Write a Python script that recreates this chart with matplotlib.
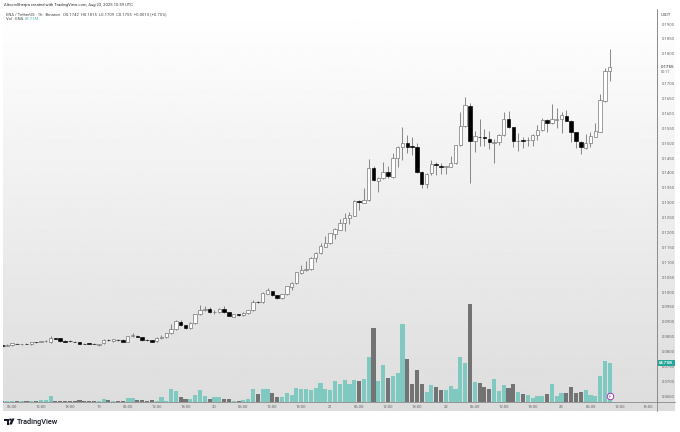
import matplotlib
matplotlib.use("Agg")
import matplotlib.pyplot as plt
from matplotlib.patches import Polygon, Circle, Rectangle
import numpy as np

W, H = 680, 432

# hourly candles, hour 0 is the first 06:00 tick
hours = list(range(-2, 125))
opens = [.0821, .0820, .0821, .0826, .0825, .0827, .0824, .0832, .0833, .0835,
         .0832, .0845, .0846, .0836, .0836, .0834, .0833, .0827, .0829, .0827,
         .0823, .0828, .0839, .0836, .0840, .0840, .0834, .0853, .0853, .0849,
         .0840, .0838, .0835, .0845, .0848, .0861, .0875, .0900, .0888, .0878,
         .0896, .0925, .0941, .0942, .0933, .0933, .0943, .0932, .0917, .0925,
         .0923, .0930, .0939, .0968, .0965, .0995, .1003, .0989, .0980, .0992,
         .1018, .1029, .1065, .1075, .1076, .1113, .1131, .1152, .1165, .1195,
         .1210, .1232, .1247, .1257, .1305, .1300, .1309, .1417, .1373, .1382,
         .1404, .1385, .1449, .1486, .1499, .1489, .1486, .1404, .1362, .1401,
         .1429, .1424, .1421, .1421, .1433, .1493, .1557, .1626, .1508, .1522,
         .1520, .1514, .1500, .1503, .1527, .1581, .1553, .1506, .1510, .1509,
         .1509, .1528, .1544, .1577, .1568, .1579, .1580, .1592, .1575, .1537,
         .1504, .1484, .1499, .1522, .1538, .1641, .1742]
highs = [.0823, .0824, .0830, .0828, .0827, .0829, .0834, .0834, .0837, .0838,
         .0852, .0847, .0847, .0838, .0838, .0836, .0834, .0829, .0830, .0829,
         .0827, .0842, .0841, .0843, .0842, .0841, .0853, .0862, .0856, .0850,
         .0842, .0839, .0848, .0856, .0864, .0892, .0905, .0905, .0890, .0898,
         .0927, .0955, .0952, .0950, .0940, .0948, .0952, .0934, .0926, .0928,
         .0932, .0941, .0972, .0970, .0999, .1012, .1005, .0990, .0994, .1022,
         .1034, .1068, .1090, .1105, .1118, .1135, .1164, .1188, .1199, .1215,
         .1245, .1267, .1268, .1309, .1310, .1348, .1448, .1423, .1386, .1438,
         .1423, .1468, .1490, .1555, .1527, .1521, .1500, .1406, .1400, .1443,
         .1438, .1435, .1423, .1458, .1495, .1605, .1656, .1636, .1540, .1580,
         .1546, .1541, .1514, .1530, .1606, .1609, .1555, .1535, .1521, .1519,
         .1530, .1560, .1585, .1580, .1630, .1617, .1606, .1611, .1577, .1539,
         .1506, .1532, .1538, .1566, .1665, .1752, .1815]
lows = [.0819, .0819, .0818, .0824, .0823, .0825, .0823, .0830, .0832, .0833,
        .0830, .0842, .0834, .0832, .0834, .0831, .0824, .0825, .0826, .0825,
        .0820, .0825, .0836, .0834, .0836, .0831, .0832, .0850, .0848, .0837,
        .0836, .0833, .0832, .0841, .0845, .0859, .0873, .0886, .0875, .0876,
        .0893, .0922, .0938, .0930, .0927, .0930, .0930, .0918, .0915, .0921,
        .0921, .0928, .0937, .0963, .0963, .0993, .0988, .0978, .0978, .0989,
        .1006, .1027, .1060, .1070, .1074, .1101, .1128, .1150, .1163, .1177,
        .1208, .1205, .1230, .1255, .1275, .1298, .1305, .1373, .1337, .1380,
        .1382, .1383, .1421, .1443, .1468, .1460, .1400, .1348, .1350, .1393,
        .1393, .1395, .1396, .1419, .1430, .1490, .1554, .1365, .1471, .1490,
        .1490, .1480, .1434, .1493, .1525, .1551, .1488, .1472, .1485, .1489,
        .1489, .1509, .1540, .1536, .1565, .1552, .1535, .1575, .1505, .1485,
        .1463, .1481, .1488, .1520, .1536, .1638, .1709]
closes = [.0820, .0823, .0828, .0825, .0826, .0826, .0833, .0831, .0835, .0836,
          .0845, .0843, .0835, .0834, .0835, .0832, .0825, .0826, .0827, .0826,
          .0824, .0840, .0838, .0842, .0838, .0833, .0851, .0854, .0850, .0839,
          .0838, .0834, .0846, .0849, .0862, .0875, .0902, .0889, .0879, .0896,
          .0925, .0941, .0943, .0932, .0934, .0943, .0932, .0920, .0925, .0924,
          .0930, .0939, .0967, .0966, .0997, .1006, .0990, .0981, .0992, .1019,
          .1031, .1066, .1073, .1076, .1115, .1132, .1154, .1165, .1197, .1211,
          .1232, .1250, .1258, .1306, .1303, .1309, .1417, .1376, .1384, .1402,
          .1390, .1449, .1488, .1499, .1486, .1488, .1402, .1362, .1398, .1430,
          .1425, .1421, .1422, .1433, .1493, .1557, .1628, .1508, .1525, .1521,
          .1518, .1503, .1503, .1527, .1581, .1553, .1506, .1508, .1508, .1510,
          .1528, .1544, .1579, .1568, .1580, .1580, .1593, .1575, .1537, .1507,
          .1488, .1499, .1524, .1541, .1645, .1742, .1755]
# volume in millions of ENA
volumes = [1.8, 1.8, 1.8, 1.4, 0.9, 0.9, 1.4, 0.9, 3.0, 3.0,
           10.0, 0.9, 2.1, 2.1, 0.9, 0.9, 4.0, 0.9, 1.2, 0.9,
           1.4, 4.4, 3.5, 1.8, 1.2, 1.2, 6.2, 6.7, 3.5, 3.5,
           1.2, 4.0, 1.2, 8.3, 2.6, 22.9, 19.4, 8.8, 4.8, 4.8,
           12.3, 21.6, 10.0, 5.8, 8.3, 8.8, 5.8, 5.8, 2.3, 2.3,
           4.0, 4.8, 23.4, 13.6, 22.4, 23.4, 15.8, 9.3, 8.3, 16.4,
           11.8, 24.1, 23.4, 22.4, 21.1, 24.1, 33.4, 23.4, 21.6, 36.4,
           31.2, 38.2, 31.2, 39.2, 37.5, 41.0, 79.2, 130.8, 36.4, 65.1,
           42.2, 46.3, 51.0, 136.8, 75.2, 31.2, 55.8, 31.7, 17.6, 29.4,
           25.9, 21.1, 21.6, 28.7, 23.4, 79.2, 69.2, 171.9, 35.7, 33.4,
           26.4, 22.4, 40.5, 18.8, 29.4, 24.6, 32.2, 18.1, 14.6, 12.3,
           7.0, 10.0, 10.0, 14.1, 32.2, 10.0, 16.4, 15.3, 26.4, 15.8,
           17.6, 21.1, 11.8, 11.1, 45.2, 72.7, 68.7]

time_labels = ["06:00", "12:00", "18:00", "19", "06:00", "12:00", "18:00", "20",
               "06:00", "12:00", "18:00", "21", "06:00", "12:00", "18:00", "22",
               "06:00", "12:00", "18:00", "23", "06:00", "12:00", "18:00"]
price_ticks = [.065, .07, .075, .08, .085, .09, .095, .10, .105, .11, .115, .12, .125,
               .13, .135, .14, .145, .15, .155, .16, .165, .17, .18, .185, .19]

plt.rcParams["font.family"] = ["Roboto", "DejaVu Sans"]
GRID = "#8a8a8a"
LABEL = "#666666"
TEAL = "#80c9c1"
GRAY = "#737373"
CANDLE = "#6a6a6a"

fig = plt.figure(figsize=(W / 100, H / 100), dpi=100, facecolor="white")

# chart background, white fading to grey
bg = fig.add_axes([0, 0, 1, 1], zorder=0)
shade = np.linspace(1.0, 0.865, 256).reshape(-1, 1)
bg.imshow(shade, cmap="gray", vmin=0, vmax=1, aspect="auto", extent=(3, 675, 411, 9))
bg.set_xlim(0, W)
bg.set_ylim(H, 0)
bg.axis("off")

# TradingView logo
bg.add_patch(Polygon([(4, 418.5), (9, 418.5), (9, 424.5), (6.7, 424.5), (6.7, 420.6), (4, 420.6)], fc="#131722", ec="none"))
bg.add_patch(Circle((10.2, 419.6), 1.1, fc="#131722", ec="none"))
bg.add_patch(Polygon([(11.8, 418.5), (14.5, 418.5), (11.8, 424.5), (9.2, 424.5)], fc="#131722", ec="none"))

left, right, top, bottom = 3, 657, 9.5, 402
ax = fig.add_axes([left / W, 1 - bottom / H, (right - left) / W, (bottom - top) / H], zorder=2)
vol_ax = ax.twinx()
vol_ax.set_zorder(1)
ax.set_zorder(2)
ax.patch.set_visible(False)

x = np.array(hours)
o, h, l, c = map(np.array, (opens, highs, lows, closes))
up = c >= o

# volume pane, sits behind the candles
vol_ax.bar(x, volumes, width=0.86, color=[TEAL if u else GRAY for u in up], linewidth=0)
vol_ax.set_ylim(0, 690)
vol_ax.set_yticks([])
for s in vol_ax.spines.values():
    s.set_visible(False)

ax.vlines(x, l, h, color=CANDLE, linewidth=0.55, zorder=2)
ax.bar(x, np.maximum(np.abs(c - o), 0.00012), bottom=np.minimum(o, c), width=0.72,
       color=["white" if u else "black" for u in up],
       edgecolor=[CANDLE if u else "black" for u in up], linewidth=0.45, zorder=3)

ax.set_xlim(-1.87, 133.8)
ax.set_ylim(.06309, .19487)
ax.set_xticks(range(0, 6 * len(time_labels), 6), labels=time_labels)
ax.yaxis.tick_right()
ax.set_yticks(price_ticks, labels=[f"{p:.4f}" for p in price_ticks])
ax.tick_params(axis="x", length=0, pad=2.2, labelsize=3.0, labelcolor=LABEL)
ax.tick_params(axis="y", length=0, pad=3.2, labelsize=3.0, labelcolor=LABEL)
for name, s in ax.spines.items():
    s.set_visible(name in ("bottom", "right"))
    s.set_color(GRID)
    s.set_linewidth(0.6)
fig.add_artist(plt.Line2D([right / W, right / W], [1 - 411 / H, 1 - 9 / H], color=GRID, linewidth=0.6))
fig.add_artist(plt.Line2D([right / W, 675 / W], [1 - 402 / H, 1 - 402 / H], color=GRID, linewidth=0.6))

# purple news marker under the last candle
ax.scatter([hours[-1]], [.0652], s=22, facecolor="white", edgecolor="#9c27b0", linewidth=0.6, zorder=5)
ax.text(hours[-1], .0652, "\u26a1", color="#9c27b0", fontsize=3.5, ha="center", va="center",
        family=["DejaVu Sans"], zorder=6)


def px_text(px, py, s, **kw):
    kw.setdefault("va", "center")
    return fig.text(px / W, 1 - py / H, s, **kw)


px_text(3.5, 5, "AltcoinSherpa created with TradingView.com, Aug 23, 2025 10:59 UTC", fontsize=2.95, color="#333333")
px_text(6, 14.5, "ENA / TetherUS \u00b7 1h \u00b7 Binance", fontsize=2.95, color="#444444")
px_text(63, 14.5, "O0.1742  H0.1815  L0.1709  C0.1755  +0.0013 (+0.75%)", fontsize=2.95, color="#444444")
px_text(6, 19.5, "Vol \u00b7 ENA", fontsize=2.95, color="#444444")
px_text(25, 19.5, "68.71M", fontsize=2.95, color="#4db6ac")
px_text(661, 14.5, "USDT", fontsize=3.0, color="#444444")
px_text(661, 67, "0.1755", fontsize=3.2, color="#222222")
px_text(661, 72, "00:17", fontsize=2.7, color=LABEL)
px_text(16.5, 421.5, "TradingView", fontsize=5.3, color="#131722", weight="medium")

fig.add_artist(Rectangle((657.5 / W, 1 - 366 / H), 17 / W, 6 / H, transform=fig.transFigure, fc="#26a69a", ec="none", zorder=5))
px_text(666, 363, "68.71M", fontsize=2.9, color="white", ha="center", weight="bold", zorder=6)

fig.savefig("out.png", dpi=100)
